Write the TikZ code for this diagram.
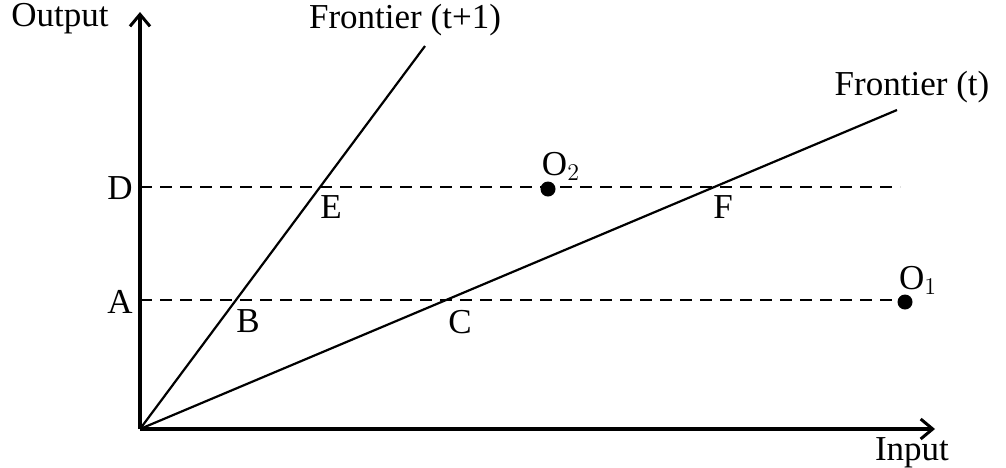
\documentclass[tikz,border=0pt]{standalone}
\usepackage{fontspec}
\setmainfont{Liberation Serif}
\usetikzlibrary{arrows.meta}
\begin{document}
\begin{tikzpicture}[x=0.5pt, y=-0.5pt,
    axis/.style={line width=1.6pt, -{Straight Barb[length=6pt, width=10pt, line width=1.5pt]}},
    frontier/.style={line width=1.1pt},
    guide/.style={line width=1.1pt, dash pattern=on 6pt off 4pt},
    lbl/.style={font=\fontsize{17.5}{20}\selectfont},
    obs/.style={circle, fill=black, inner sep=0pt, minimum width=7.5pt, minimum height=6pt}]
  \useasboundingbox (0,0) rectangle (1006,467);
  \coordinate (origin) at (140,429);
  \coordinate (ytop) at (140,12);
  \coordinate (xend) at (935,429);
  \coordinate (tone) at (425,46);
  \coordinate (tzero) at (897,110);
  \coordinate (Dstart) at (140,187);
  \coordinate (Dend) at (900,187);
  \coordinate (Astart) at (140,300);
  \coordinate (Aend) at (895,300);
  \draw[axis] (origin) -- (ytop);
  \draw[axis] (origin) -- (xend);
  \draw[frontier] (origin) -- (tone);
  \draw[frontier] (origin) -- (tzero);
  \draw[guide] (Dstart) -- (Dend);
  \draw[guide] (Astart) -- (Aend);
  \node[obs] (Otwo) at (548,189) {};
  \node[obs] (Oone) at (905,302) {};
  \node[lbl] (output) at (60,19) {Output};
  \node[lbl] (input) at (912,453) {Input};
  \node[lbl] (ftone) at (405,20) {Frontier (t+1)};
  \node[lbl] (ftzero) at (912,87) {Frontier (t)};
  \node[lbl] (D) at (120,188) {D};
  \node[lbl] (A) at (120,302) {A};
  \node[lbl] (E) at (331,207) {E};
  \node[lbl] (F) at (723,207) {F};
  \node[lbl] (B) at (248,321) {B};
  \node[lbl] (C) at (460,322) {C};
  \node[lbl] (otwolbl) at (561,166) {O$_2$};
  \node[lbl] (oonelbl) at (918,280) {O$_1$};
\end{tikzpicture}
\end{document}
